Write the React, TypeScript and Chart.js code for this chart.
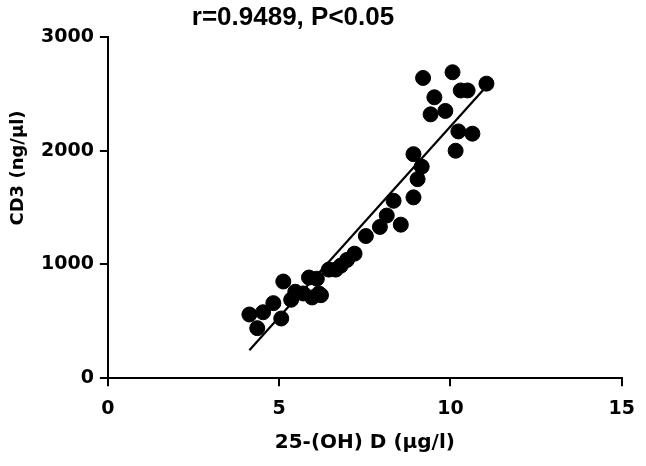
import React, { useEffect, useRef } from "react";
import { Chart, registerables } from "chart.js";

Chart.register(...registerables);

const xValues = [4.13, 4.36, 4.53, 4.83, 5.06, 5.12, 5.35, 5.47, 5.7, 5.96, 6.16, 6.1, 5.87, 6.22, 6.45, 6.65, 6.8, 6.98, 7.2,
  7.53, 7.94, 8.55, 8.14, 8.34, 8.92, 9.04, 9.16, 8.92, 10.15, 10.23, 10.64, 9.42, 9.85, 9.53, 10.3, 10.5, 11.05, 9.2, 10.06];
const yValues = [560, 440, 580, 660, 525, 850, 690, 760, 745, 710, 745, 875, 885, 730, 955, 955, 990, 1040, 1095,
  1250, 1330, 1350, 1430, 1560, 1590, 1750, 1860, 1970, 2000, 2170, 2150, 2320, 2350, 2470, 2530, 2530, 2590, 2640, 2690];
const fitX = [4.13, 11.0];
const fitY = [245, 2550];
const xTicks = [0, 5, 10, 15];
const yTicks = [0, 1000, 2000, 3000];
const titleText = "r=0.9489, P<0.05";
const xTitle = "25-(OH) D (μg/l)";
const yTitle = "CD3 (ng/μl)";

const textPlugin = {
  id: "customTexts",
  afterDraw(chart: any) {
    const ctx = chart.ctx;
    ctx.save();
    ctx.fillStyle = "#000";
    ctx.font = "bold 26px 'Liberation Sans', Arial, sans-serif";
    ctx.textAlign = "center";
    ctx.textBaseline = "alphabetic";
    ctx.fillText(titleText, 293, 25);
    ctx.font = "bold 18px 'DejaVu Sans', sans-serif";
    ctx.textBaseline = "middle";
    ctx.translate(18, 168);
    ctx.rotate(-Math.PI / 2);
    ctx.fillText(yTitle, 0, 0);
    ctx.restore();
  },
};

export default function App() {
  const ref = useRef<HTMLCanvasElement>(null);
  useEffect(() => {
    const tickFont = { family: "'DejaVu Sans', sans-serif", weight: "bold" as const, size: 19 };
    const axisFont = { family: "'DejaVu Sans', sans-serif", weight: "bold" as const, size: 20 };
    const chart = new Chart(ref.current!, {
      type: "scatter",
      data: {
        datasets: [
          {
            data: xValues.map((x, i) => ({ x, y: yValues[i] })),
            backgroundColor: "#000",
            borderColor: "#000",
            pointRadius: 7.5,
            pointHoverRadius: 7.5,
          },
          {
            type: "line",
            data: fitX.map((x, i) => ({ x, y: fitY[i] })),
            borderColor: "#000",
            borderWidth: 2.2,
            pointRadius: 0,
            showLine: true,
          } as any,
        ],
      },
      options: {
        animation: false,
        responsive: false,
        layout: { padding: { left: 35, right: 1, top: 37, bottom: 7 } },
        plugins: {
          legend: { display: false },
          tooltip: { enabled: false },
          title: { display: false },
        },
        scales: {
          x: {
            type: "linear",
            min: 0,
            max: 15,
            afterBuildTicks: (s: any) => { s.ticks = xTicks.map((v) => ({ value: v })); },
            ticks: { color: "#000", font: tickFont, padding: 11, callback: (v: any) => String(v) },
            grid: { drawOnChartArea: false, drawTicks: true, tickLength: 8, color: "#000", lineWidth: 2 },
            border: { color: "#000", width: 2 },
            title: { display: true, text: xTitle, color: "#000", font: axisFont, padding: { top: 0 } },
          },
          y: {
            type: "linear",
            min: 0,
            max: 3000,
            afterBuildTicks: (s: any) => { s.ticks = yTicks.map((v) => ({ value: v })); },
            ticks: { color: "#000", font: tickFont, padding: 6, callback: (v: any) => String(v) },
            grid: { drawOnChartArea: false, drawTicks: true, tickLength: 8, color: "#000", lineWidth: 2 },
            border: { color: "#000", width: 2 },
          },
        },
      },
      plugins: [textPlugin],
    });
    return () => chart.destroy();
  }, []);
  return (
    <div style={{ position: "fixed", left: 0, top: 0, width: 646, height: 466, background: "#fff" }}>
      <canvas ref={ref} width={646} height={466} />
    </div>
  );
}
